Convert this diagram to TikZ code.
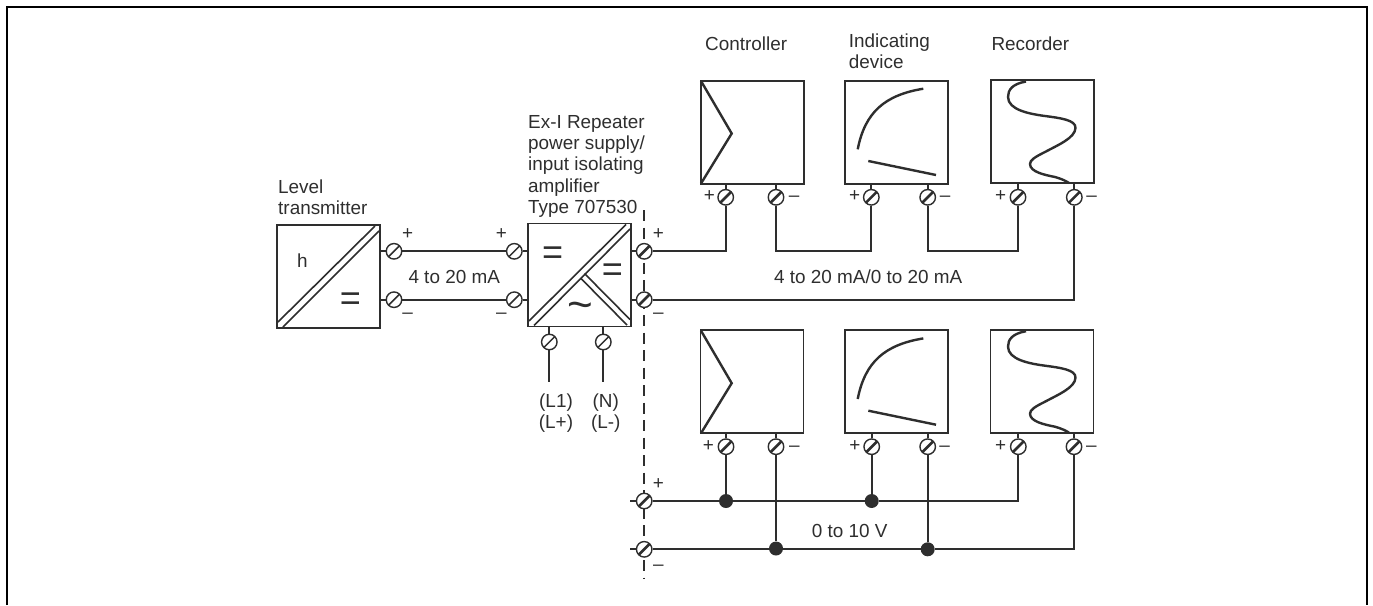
\documentclass[tikz,border=0pt]{standalone}
\usepackage{fontspec}
\setmainfont{Liberation Sans}
\definecolor{ink}{HTML}{2E2E2E}
\tikzset{
  x=1pt,y=-1pt,
  wire/.style={draw=ink,line width=1.8pt,line join=miter},
  unit/.style={draw=ink,line width=1.8pt,fill=white,minimum width=103pt,minimum height=103pt,inner sep=0pt},
  inner/.style={draw=ink,line width=1.6pt},
  glyphline/.style={draw=ink,line width=2.4pt,line cap=butt},
  termi/.style={circle,draw=ink,line width=1.4pt,fill=white,minimum size=15.5pt,inner sep=0pt,
    path picture={\draw[ink,line width=1.5pt] (path picture bounding box.south west) -- (path picture bounding box.north east);}},
  termb/.style={circle,draw=ink,line width=1.4pt,fill=white,minimum size=15.5pt,inner sep=0pt,
    path picture={\draw[ink,line width=2.6pt] (path picture bounding box.south west) -- (path picture bounding box.north east);}},
  junction/.style={circle,fill=ink,minimum size=14pt,inner sep=0pt},
  lbl/.style={text=ink,inner sep=0pt,font=\fontsize{18.9pt}{20.9pt}\selectfont},
  lblb/.style={lbl,anchor=base west},
  lbln/.style={lbl,anchor=north west,align=left},
  sign/.style={lbl,anchor=base},
  big/.style={text=ink,inner sep=0pt,anchor=base,font=\fontsize{36pt}{36pt}\selectfont},
}
\begin{document}
\begin{tikzpicture}
\useasboundingbox (0,0) rectangle (1373,605);
\draw[black,line width=2.2pt] (7,605) -- (7,7) -- (1367,7) -- (1367,605);
% isolation line
\coordinate (dtop) at (644.2,210);
\coordinate (dbot) at (644.2,578);
\draw[ink,line width=1.6pt,dash pattern=on 11pt off 6.5pt] (dtop) -- (dbot);
% boxes
\node[unit] (lt) at (328.5,276.5) {};
\node[unit] (rp) at (579.3,275) {};
\node[unit] (c1) at (752.3,132.2) {};
\node[unit] (i1) at (896.7,132.2) {};
\node[unit] (r1) at (1042.3,131.7) {};
\node[unit] (c2) at (752,381.8) {};
\node[unit] (i2) at (896.7,381.8) {};
\node[unit] (r2) at (1042,381.5) {};
% diagonals
\draw[inner] (278,322) -- (375,226);
\draw[inner] (283,327) -- (379,231);
\draw[inner] (529,321) -- (626,224.5);
\draw[inner] (534,325.5) -- (630,229);
\draw[inner] (584.5,273.5) -- (630,319.5);
\draw[inner] (581,278.5) -- (627,325);
% terminals
\node[termi] (a1) at (394,251.3) {};
\node[termi] (a2) at (394,299.7) {};
\node[termi] (b1) at (514.3,251.3) {};
\node[termi] (b2) at (514.3,299.7) {};
\node[termb] (o1) at (644.2,251.3) {};
\node[termb] (o2) at (644.2,299.7) {};
\node[termi] (p1) at (549.3,342) {};
\node[termi] (p2) at (603.3,342) {};
\coordinate (l1) at (549.3,381.7);
\coordinate (l2) at (603.3,381.7);
\node[termb] (c1p) at (725.7,197.3) {};
\node[termb] (c1m) at (776,197.3) {};
\node[termb] (i1p) at (871.3,197.3) {};
\node[termb] (i1m) at (927.7,197.3) {};
\node[termb] (r1p) at (1018,197.3) {};
\node[termb] (r1m) at (1074.3,197.3) {};
\node[termb] (c2p) at (726,446.7) {};
\node[termb] (c2m) at (776,446.7) {};
\node[termb] (i2p) at (871.7,446.7) {};
\node[termb] (i2m) at (927.7,446.7) {};
\node[termb] (r2p) at (1018.3,446.7) {};
\node[termb] (r2m) at (1074,446.7) {};
\node[termb] (s1) at (644.2,501) {};
\node[termb] (s2) at (644.2,549.3) {};
\coordinate (s1w) at (630,501);
\coordinate (s2w) at (630,549.3);
\node[junction] (j1) at (726,501) {};
\node[junction] (j2) at (871.7,501) {};
\node[junction] (j3) at (776,548.5) {};
\node[junction] (j4) at (927.7,549.3) {};
\coordinate (w1) at (776,251.3);
\coordinate (w2) at (871.3,251.3);
\coordinate (w3) at (927.7,251.3);
\coordinate (w4) at (1018,251.3);
% stubs and wires
\foreach \t/\b/\d in {a1/lt/east,a2/lt/east,b1/rp/west,b2/rp/west,o1/rp/east,o2/rp/east}
  \draw[wire] (\b.\d |- \t) -- (\t);
\foreach \t/\b in {p1/rp,p2/rp,c1p/c1,c1m/c1,i1p/i1,i1m/i1,r1p/r1,r1m/r1,c2p/c2,c2m/c2,i2p/i2,i2m/i2,r2p/r2,r2m/r2}
  \draw[wire] (\b.south -| \t) -- (\t);
\draw[wire] (a1) -- (b1);
\draw[wire] (a2) -- (b2);
\draw[wire] (p1) -- (l1);
\draw[wire] (p2) -- (l2);
\draw[wire] (o1) -| (c1p);
\draw[wire] (c1m) -- (w1) -- (w2) -- (i1p);
\draw[wire] (i1m) -- (w3) -- (w4) -- (r1p);
\draw[wire] (o2) -| (r1m);
\draw[wire] (s1w) -- (s1);
\draw[wire] (s2w) -- (s2);
\draw[wire] (s1) -- (j1);
\draw[wire] (j1) -- (j2);
\draw[wire] (j2) -| (r2p);
\draw[wire] (s2) -- (j3 |- s2) -- (j4);
\draw[wire] (j4) -| (r2m);
\draw[wire] (c2p) -- (j1);
\draw[wire] (i2p) -- (j2);
\draw[wire] (c2m) -- (j3);
\draw[wire] (i2m) -- (j4);
% device symbols
\foreach \dy in {0,249.7}{
  \begin{scope}[yshift=-\dy pt]
    \draw[glyphline,line join=miter] (701,81) -- (731.7,133.5) -- (701,183.5);
    \draw[glyphline] (857.7,149.3) .. controls (865,112) and (885,95) .. (923.3,88.7);
    \draw[glyphline] (868.3,161) -- (936,175);
    \draw[glyphline] (1026,81.5) .. controls (1012,84) and (1008,90) .. (1008,97)
       .. controls (1008,110) and (1030,114) .. (1045,116)
       .. controls (1060,118) and (1076,120) .. (1075.5,128)
       .. controls (1075,138) and (1058,145) .. (1045,152)
       .. controls (1035,157) and (1030,160) .. (1030,164)
       .. controls (1030,172) and (1045,175) .. (1055,177)
       .. controls (1062,179) and (1066,181) .. (1069,183);
  \end{scope}
}
% texts
\node[lbln] (tlt) at (278,180) {Level\\[0.2pt]transmitter};
\node[lbln] (trp) at (528,115) {Ex-I Repeater\\[0.4pt]power supply/\\[0.4pt]input isolating\\[0.4pt]amplifier\\[0.4pt]Type 707530};
\node[lblb] (tc) at (705,50) {Controller};
\node[lbln] (ti) at (848.7,34) {Indicating\\device};
\node[lblb] (tr) at (991.3,50) {Recorder};
\node[lblb] (t420) at (408.3,283.3) {4 to 20 mA};
\node[lblb] (t020) at (774,283.3) {4 to 20 mA/0 to 20 mA};
\node[lblb] (t010) at (811.7,537.3) {0 to 10 V};
\node[lbl,align=center] (tl1) at (556,413) {(L1)\\(L+)};
\node[lbl,align=center] (tn) at (605.7,413) {(N)\\(L-)};
\node[lbl,anchor=base] (th) at (302.3,267.5) {h};
\node[big] (eq1) at (350.3,310) {=};
\node[big] (eq2) at (552.7,264) {=};
\node[big] (eq3) at (612.3,281) {=};
\node[big] (til) at (580,319) {\fontsize{44pt}{44pt}\selectfont\char"7E};
% signs
\foreach \n/\x/\y in {sa/407.7/239,sb/501.3/239,sc/658.3/239,sd/709.3/201.3,se/854.7/201.3,sf/1000.7/201.3,sg/708.3/451.3,sh/855/451.3,si/1000.7/451.3,sj/658.3/489.3}
  \node[sign] (\n) at (\x,\y) {+};
\foreach \n/\x/\y in {ma/407.7/318.3,mb/501.3/318.3,mc/658.3/318.3,md/794/201.7,me/945/201.7,mf/1091.7/201.7,mg/794.3/451,mh/944.7/451,mi/1091.3/451,mj/658.3/570.7}
  \node[sign] (\n) at (\x,\y) {–};
\end{tikzpicture}
\end{document}
